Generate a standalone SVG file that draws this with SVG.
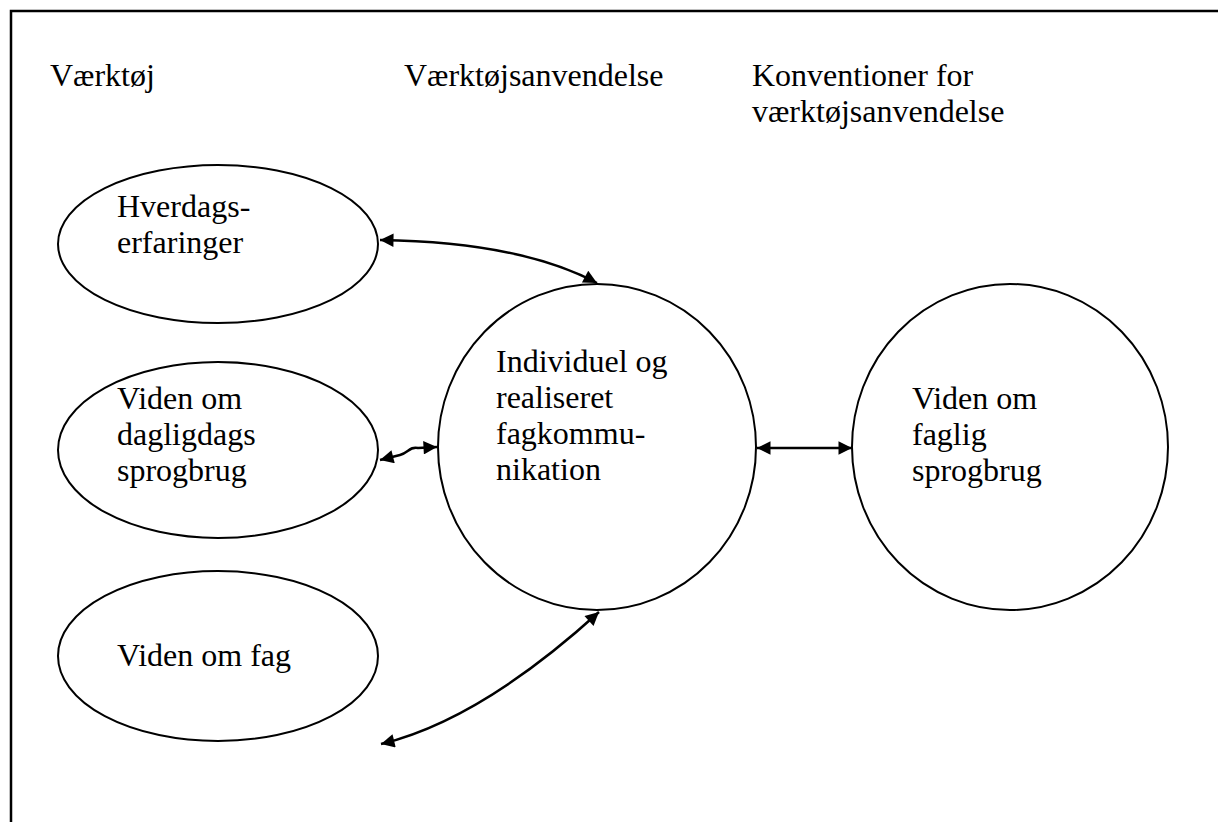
<svg xmlns="http://www.w3.org/2000/svg" width="1218" height="822" viewBox="0 0 1218 822">
<defs>
<style>
.t{font-family:"Liberation Serif","Times New Roman",serif;font-size:32px;fill:#000}
.n{fill:#fff;stroke:#000;stroke-width:2}
.c{fill:none;stroke:#000;stroke-width:2.5}
</style>
<marker id="a" viewBox="0 0 10 10" refX="10" refY="5" markerWidth="6.4" markerHeight="5.4" markerUnits="strokeWidth" orient="auto-start-reverse">
<path d="M0,0 L10,5 L0,10 Z" fill="#000"/>
</marker>
</defs>
<rect width="1218" height="822" fill="#fff"/>
<path d="M11,830 V11 H1230" fill="none" stroke="#000" stroke-width="2.5"/>
<g id="headers">
<text class="t" x="50" y="86">Værktøj</text>
<text class="t" x="404" y="86">Værktøjsanvendelse</text>
<text class="t" x="752" y="86">Konventioner for</text>
<text class="t" x="752" y="122">værktøjsanvendelse</text>
</g>
<g id="n1">
<ellipse class="n" cx="218" cy="244" rx="160" ry="79"/>
<text class="t" x="117" y="217">Hverdags-</text>
<text class="t" x="117" y="253">erfaringer</text>
</g>
<g id="n2">
<ellipse class="n" cx="218" cy="450" rx="160" ry="88"/>
<text class="t" x="117" y="409">Viden om</text>
<text class="t" x="117" y="445">dagligdags</text>
<text class="t" x="117" y="481">sprogbrug</text>
</g>
<g id="n3">
<ellipse class="n" cx="218" cy="656" rx="160" ry="85"/>
<text class="t" x="117" y="666">Viden om fag</text>
</g>
<g id="n4">
<ellipse class="n" cx="597" cy="447" rx="159" ry="163"/>
<text class="t" x="496" y="372">Individuel og</text>
<text class="t" x="496" y="408">realiseret</text>
<text class="t" x="496" y="444">fagkommu-</text>
<text class="t" x="496" y="480">nikation</text>
</g>
<g id="n5">
<ellipse class="n" cx="1010" cy="447" rx="158" ry="163"/>
<text class="t" x="912" y="409">Viden om</text>
<text class="t" x="912" y="445">faglig</text>
<text class="t" x="912" y="481">sprogbrug</text>
</g>
<g id="connectors">
<path class="c" d="M380,240 Q520,242 597,283" marker-start="url(#a)" marker-end="url(#a)"/>
<path class="c" d="M380,460 L400,455 C408,453 410,446 418,448 L437,447" marker-start="url(#a)" marker-end="url(#a)"/>
<path class="c" d="M381,744 Q480,720 599,612" marker-start="url(#a)" marker-end="url(#a)"/>
<path class="c" d="M757,448 L852,448" marker-start="url(#a)" marker-end="url(#a)"/>
</g>
</svg>
